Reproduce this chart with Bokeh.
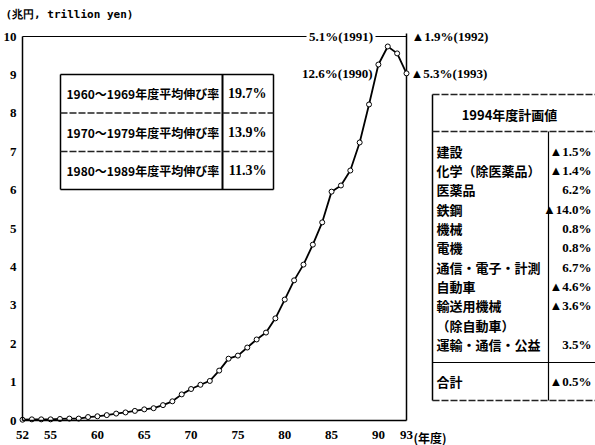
from bokeh.plotting import figure
from bokeh.models import Range1d, FixedTicker, Label
from bokeh.core.properties import value
from bokeh.embed import file_html
from bokeh.resources import INLINE

# ---------------- data ----------------
years = list(range(52, 94))
values = [0.02, 0.03, 0.03, 0.03, 0.04, 0.05, 0.05, 0.09, 0.11, 0.14,
          0.18, 0.21, 0.25, 0.29, 0.32, 0.40, 0.50, 0.68, 0.82, 0.93,
          1.03, 1.30, 1.61, 1.69, 1.90, 2.11, 2.29, 2.66, 3.15, 3.65,
          4.06, 4.58, 5.16, 5.96, 6.12, 6.51, 7.24, 8.23, 9.27, 9.74,
          9.56, 9.04]
x_ticks = [52, 55, 60, 65, 70, 75, 80, 85, 90, 93]
y_ticks = list(range(0, 11))

y_title = "(兆円, trillion yen)"
x_unit = "(年度)"

ann_1991 = "5.1%(1991)"
ann_1990 = "12.6%(1990)"
ann_1992 = "▲1.9%(1992)"
ann_1993 = "▲5.3%(1993)"

lt_labels = ["1960〜1969年度平均伸び率", "1970〜1979年度平均伸び率", "1980〜1989年度平均伸び率"]
lt_values = ["19.7%", "13.9%", "11.3%"]

rt_title = "1994年度計画値"
rt_labels = ["建設", "化学（除医薬品）", "医薬品", "鉄鋼", "機械", "電機",
             "通信・電子・計測", "自動車", "輸送用機械", "（除自動車）", "運輸・通信・公益"]
rt_values = ["▲1.5%", "▲1.4%", "6.2%", "▲14.0%", "0.8%", "0.8%",
             "6.7%", "▲4.6%", "▲3.6%", "", "3.5%"]
rt_total_label = "合計"
rt_total_value = "▲0.5%"

# ---------------- layout (canvas pixels) ----------------
W, H = 595, 445
PX_L, PX_R = 22, 406     # x pixel of first / last year
PX_B, PX_T = 420, 36     # y pixel of 0 / top value
x0, x1 = years[0], years[-1]
ymax = y_ticks[-1]
sx = (PX_R - PX_L) / (x1 - x0)
sy = (PX_B - PX_T) / ymax


def X(px):   # pixel x -> data x
    return x0 + (px - PX_L) / sx


def Y(py):   # pixel y -> data y
    return (PX_B - py) / sy


p = figure(width=W, height=H, x_range=Range1d(X(0), X(W)), y_range=Range1d(Y(H), Y(0)),
           output_backend="svg", toolbar_location=None,
           min_border_left=0, min_border_right=0, min_border_top=0, min_border_bottom=0)
p.outline_line_color = None
p.grid.visible = False
p.background_fill_color = "white"
p.border_fill_color = "white"

NUM_FONT = value("Liberation Serif, DejaVu Sans")
JP_FONT = value("Noto Sans CJK JP")

for ax, ticks in ((p.xaxis[0], x_ticks), (p.yaxis[0], y_ticks)):
    ax.ticker = FixedTicker(ticks=ticks)
    ax.axis_line_color = "black"
    ax.axis_line_width = 1.5
    ax.major_tick_line_color = None
    ax.minor_tick_line_color = None
    ax.major_tick_out = 0
    ax.minor_tick_out = 0
    ax.major_tick_in = 0
    ax.minor_tick_in = 0
    ax.major_label_text_font = "Liberation Serif"
    ax.major_label_text_font_style = "bold"
    ax.major_label_text_font_size = "13px"
    ax.major_label_text_color = "black"
p.xaxis[0].bounds = (x0, x1)
p.yaxis[0].bounds = (0, ymax)
p.xaxis[0].fixed_location = 0
p.yaxis[0].fixed_location = x0
p.xaxis[0].major_label_standoff = 10
p.yaxis[0].major_label_standoff = 6

# unit after the last x tick label
p.text(x=[X(413)], y=[Y(437)], text=[x_unit], text_font=JP_FONT, text_font_style="bold",
       text_font_size=value("12px"), text_color="black", text_align="left", text_baseline="middle")

# chart frame: top line (broken by the 1991 label) and right line
gap_l, gap_r = X(306), X(375)
p.segment(x0=[x0, gap_r], y0=[ymax, ymax], x1=[gap_l, x1], y1=[ymax, ymax],
          line_color="black", line_width=1.2)
p.segment(x0=[x1], y0=[0], x1=[x1], y1=[Y(33)], line_color="black", line_width=1.5)

# curve
p.line(years, values, line_color="black", line_width=1.8)
p.scatter(years, values, marker="circle", size=5, fill_color="white",
          line_color="black", line_width=1)

# annotations
ann = dict(text_font=NUM_FONT, text_font_style="bold", text_font_size=value("13px"),
           text_color="black", text_baseline="middle")
p.text(x=[(gap_l + gap_r) / 2], y=[ymax], text=[ann_1991], text_align="center", **ann)
p.text(x=[X(372)], y=[Y(73)], text=[ann_1990], text_align="right", **ann)
p.text(x=[X(411), X(410)], y=[Y(36), Y(73)], text=[ann_1992, ann_1993], text_align="left", **ann)

# ---------------- left table ----------------
lt_l, lt_r, lt_div = X(60), X(273), X(222)
lt_rows = [Y(74), Y(112.5), Y(151), Y(189)]
p.segment(x0=[lt_l, lt_r, lt_l, lt_l], y0=[lt_rows[0], lt_rows[0], lt_rows[0], lt_rows[-1]],
          x1=[lt_l, lt_r, lt_r, lt_r], y1=[lt_rows[-1], lt_rows[-1], lt_rows[0], lt_rows[-1]],
          line_color="black", line_width=1.5)
p.segment(x0=[lt_div], y0=[lt_rows[0]], x1=[lt_div], y1=[lt_rows[-1]],
          line_color="black", line_width=2)
p.segment(x0=[lt_l, lt_l], y0=lt_rows[1:3], x1=[lt_r, lt_r], y1=lt_rows[1:3],
          line_color="#222222", line_width=1.3, line_dash="7 2")
lt_y = [(lt_rows[i] + lt_rows[i + 1]) / 2 for i in range(3)]
p.text(x=[X(66)] * 3, y=lt_y, text=lt_labels, text_font=JP_FONT, text_font_style="bold",
       text_font_size=value("12px"), text_color="black", text_align="left", text_baseline="middle")
p.text(x=[X(266)] * 3, y=lt_y, text=lt_values, text_font=NUM_FONT, text_font_style="bold",
       text_font_size=value("14px"), text_color="black", text_align="right", text_baseline="middle")

# ---------------- right table ----------------
rt_l, rt_r, rt_div = X(432), X(W + 10), X(548)
rt_top, rt_head, rt_sum, rt_bot = Y(94), Y(131), Y(362), Y(400)
p.segment(x0=[rt_l], y0=[rt_top], x1=[rt_l], y1=[rt_bot], line_color="black", line_width=1.5)
p.segment(x0=[rt_div], y0=[rt_head], x1=[rt_div], y1=[rt_bot], line_color="black", line_width=1.2)
p.segment(x0=[rt_l] * 3, y0=[rt_top, rt_head, rt_bot], x1=[rt_r] * 3, y1=[rt_top, rt_head, rt_bot],
          line_color="#222222", line_width=1.3, line_dash="7 2")
p.segment(x0=[rt_l], y0=[rt_sum], x1=[rt_r], y1=[rt_sum], line_color="black", line_width=1.2)
p.text(x=[X(509)], y=[Y(114)], text=[rt_title], text_font=JP_FONT, text_font_style="bold",
       text_font_size=value("13px"), text_color="black", text_align="center", text_baseline="middle")
rt_y = [Y(150.8 + 19.3 * i) for i in range(len(rt_labels))]
p.text(x=[X(436)] * len(rt_labels), y=rt_y, text=rt_labels, text_font=JP_FONT,
       text_font_style="bold", text_font_size=value("13px"), text_color="black",
       text_align="left", text_baseline="middle")
p.text(x=[X(591)] * len(rt_values), y=rt_y, text=rt_values, text_font=NUM_FONT,
       text_font_style="bold", text_font_size=value("13px"), text_color="black",
       text_align="right", text_baseline="middle")
p.text(x=[X(436)], y=[Y(381)], text=[rt_total_label], text_font=JP_FONT, text_font_style="bold",
       text_font_size=value("13px"), text_color="black", text_align="left", text_baseline="middle")
p.text(x=[X(591)], y=[Y(381)], text=[rt_total_value], text_font=NUM_FONT, text_font_style="bold",
       text_font_size=value("13px"), text_color="black", text_align="right", text_baseline="middle")

# y-axis title
p.add_layout(Label(x=X(5), y=Y(14), text=y_title, text_font="DejaVu Sans Mono",
                   text_font_style="bold", text_font_size="11px", text_color="black",
                   text_align="left", text_baseline="middle"))

open("out.html", "w").write(file_html(p, INLINE))
